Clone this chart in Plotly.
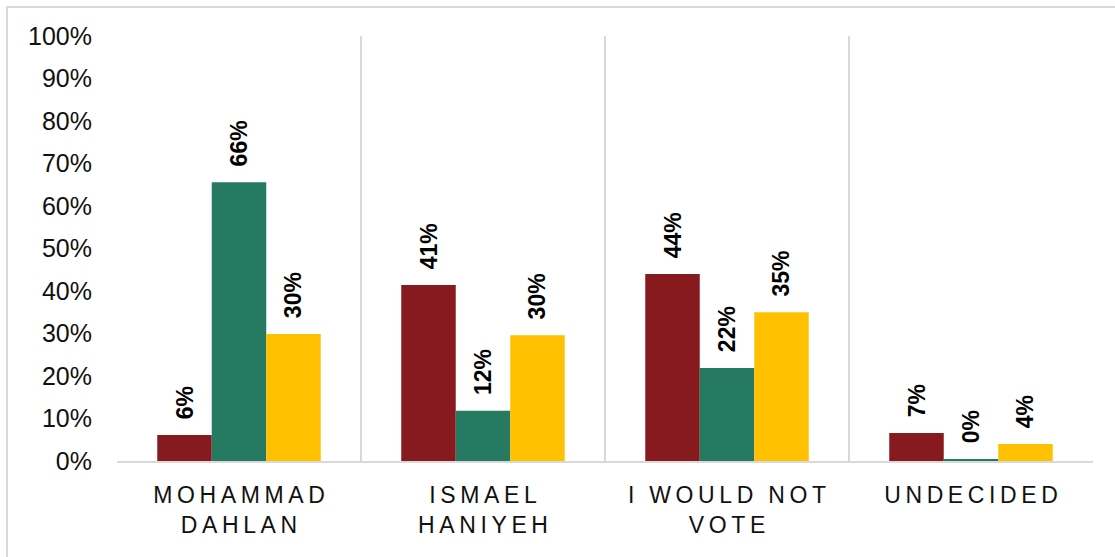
import plotly.graph_objects as go

# Survey categories and tick labels (line-broken)
categories = ["Mohammad Dahlan", "Ismael Haniyeh", "I would not vote", "Undecided"]
tick_labels = [["MOHAMMAD", "DAHLAN"], ["ISMAEL", "HANIYEH"], ["I WOULD NOT", "VOTE"], ["UNDECIDED"]]

# Share of respondents per group
series_a = [0.061, 0.414, 0.440, 0.066]
series_b = [0.656, 0.118, 0.219, 0.003]
series_c = [0.299, 0.296, 0.350, 0.040]

series_names = ["Group A", "Group B", "Group C"]
series_colors = ["#861A1F", "#267A62", "#FFC000"]

y_ticks = [i / 10 for i in range(11)]

W, H = 1115, 557
L, R, T, B = 117, 22, 36, 96


def spaced(line):
    # widen letter spacing with narrow unicode spaces
    words = line.split(" ")
    return "\u2009\u2005\u2009".join("\u2009".join(w) for w in words)


ticktext = ["<br>".join(spaced(ln) for ln in lines) for lines in tick_labels]

fig = go.Figure()
for name, vals, color in zip(series_names, [series_a, series_b, series_c], series_colors):
    fig.add_trace(go.Bar(
        name=name,
        x=categories,
        y=vals,
        marker=dict(color=color, line=dict(width=0)),
        texttemplate="\u00a0\u00a0%{y:.0%}",
        textposition="outside",
        textangle=-90,
        textfont=dict(family="Liberation Sans, Arial, sans-serif", size=23, color="#000000",
                      weight="bold"),
        cliponaxis=False,
        constraintext="none",
    ))

pw = W - L - R
ph = H - T - B
# outer chart frame
fig.add_shape(type="rect", xref="paper", yref="paper",
              x0=(7 - L) / pw, x1=(W + 20 - L) / pw,
              y0=-(B + 20) / ph, y1=1 + (T - 7) / ph,
              line=dict(color="#D9D9D9", width=2), fillcolor="rgba(0,0,0,0)", layer="below")

fig.update_layout(
    width=W, height=H,
    margin=dict(l=L, r=R, t=T, b=B, pad=0),
    paper_bgcolor="#FFFFFF",
    plot_bgcolor="#FFFFFF",
    barmode="group",
    bargap=0.33,
    bargroupgap=0,
    showlegend=False,
    font=dict(family="Liberation Sans, Arial, sans-serif", color="#000000"),
    xaxis=dict(
        tickmode="array",
        tickvals=categories,
        ticktext=ticktext,
        tickson="boundaries",
        showgrid=True,
        gridcolor="#D9D9D9",
        gridwidth=2,
        showline=True,
        linecolor="#D9D9D9",
        linewidth=2,
        ticks="",
        tickfont=dict(size=23, color="#111111"),
        ticklabelstandoff=12,
        range=[-0.5, 3.5],
    ),
    yaxis=dict(
        range=[0, 1],
        tickmode="array",
        tickvals=y_ticks,
        tickformat=".0%",
        showgrid=False,
        zeroline=False,
        showline=False,
        ticks="",
        tickfont=dict(size=25, color="#111111"),
        ticklabelstandoff=24,
    ),
)

fig.write_html("out.html")
